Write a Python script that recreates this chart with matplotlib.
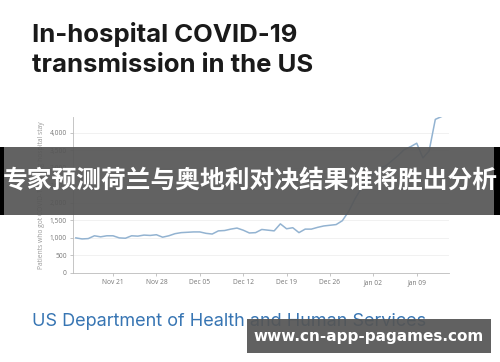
import matplotlib
matplotlib.use("Agg")
import matplotlib.pyplot as plt
import pandas as pd
from matplotlib.patches import Rectangle

# patients who got COVID-19 during hospital stay, daily from Nov 15
start_day = "2020-11-15"
patients = [1000, 970, 980, 1060, 1030, 1060, 1060, 1000, 990, 1060,
            1050, 1080, 1070, 1090, 1020, 1060, 1120, 1150, 1160, 1170,
            1170, 1130, 1110, 1200, 1210, 1250, 1280, 1220, 1140, 1150,
            1240, 1220, 1200, 1400, 1260, 1290, 1150, 1250, 1250, 1300,
            1340, 1360, 1380, 1490, 1750, 2100, 2400, 2600, 2800, 3000,
            3050, 3200, 3350, 3520, 3600, 3700, 3280, 3480, 4380, 4460]
tick_dates = ["2020-11-21", "2020-11-28", "2020-12-05", "2020-12-12",
              "2020-12-19", "2020-12-26", "2021-01-02", "2021-01-09"]
tick_labels = ["Nov 21", "Nov 28", "Dec 05", "Dec 12", "Dec 19", "Dec 26", "Jan 02", "Jan 09"]
y_ticks = [0, 500, 1000, 1500, 2000, 2500, 3000, 3500, 4000]

title = "In-hospital COVID-19\ntransmission in the US"
source = "US Department of Health and Human Services"
banner = "专家预测荷兰与奥地利对决结果谁将胜出分析"
site = "www.cn-app-pagames.com"

days = pd.date_range(start_day, periods=len(patients), freq="D")

fig = plt.figure(figsize=(5, 3.62), dpi=100)
fig.patch.set_facecolor("white")
ax = fig.add_axes([0.146, 0.246, 0.752, 0.431])

ax.plot(days, patients, color="#93b3d1", linewidth=1.1)

ax.set_ylim(0, 4450)
ax.set_xlim(pd.Timestamp("2020-11-14 13:00"), pd.Timestamp("2021-01-14 05:00"))
ax.set_yticks(y_ticks)
ax.set_yticklabels(["{:,}".format(v) for v in y_ticks])
ax.set_xticks(pd.to_datetime(tick_dates))
ax.set_xticklabels(tick_labels)
ax.grid(axis="y", color="#efefef", linewidth=0.6)
ax.set_axisbelow(True)
for s in ["top", "right"]:
    ax.spines[s].set_visible(False)
for s in ["left", "bottom"]:
    ax.spines[s].set_color("#bbbbbb")
    ax.spines[s].set_linewidth(0.6)
ax.tick_params(colors="#bbbbbb", labelcolor="#777777", labelsize=4.8,
               length=2.5, width=0.6, pad=2)
for t in ax.get_xticklabels() + ax.get_yticklabels():
    t.set_family("Open Sans")
ax.set_ylabel("Patients who got COVID-19 during hospital stay", fontsize=4.9,
              color="#999999", family="Open Sans", labelpad=3)

fig.text(0.064, 1 - 22 / 362, title, fontsize=18.5, fontweight="bold", family="Inter",
         color="#1a1a1a", va="top", linespacing=1.4)
fig.text(0.064, 0.10, source, fontsize=13, family="Inter", color="#3775b3", va="baseline")

# overlay banner across the chart
fig.patches.append(Rectangle((0, 1 - 215 / 362), 1, 68 / 362, transform=fig.transFigure,
                             facecolor="#555555", alpha=0.92, zorder=5))
fig.patches.append(Rectangle((0, 1 - 215 / 362), 0.007, 68 / 362, transform=fig.transFigure,
                             facecolor="black", zorder=6))
fig.patches.append(Rectangle((0.988, 1 - 215 / 362), 0.012, 68 / 362, transform=fig.transFigure,
                             facecolor="black", zorder=6))
fig.text(0.5, 1 - 181 / 362, banner, fontsize=17.8, fontweight="bold", color="white",
         family=["Noto Sans CJK SC", "DejaVu Sans"], ha="center", va="center", zorder=7)

fig.patches.append(Rectangle((247 / 500, 1 - 353 / 362), 244 / 500, 34 / 362,
                             transform=fig.transFigure, facecolor="#555555", alpha=0.93, zorder=5))
fig.text(369 / 500, 1 - 337 / 362, site, fontsize=11, fontweight="bold", color="white",
         family="DejaVu Sans", ha="center", va="center", zorder=7)

fig.savefig("out.png", dpi=100)
